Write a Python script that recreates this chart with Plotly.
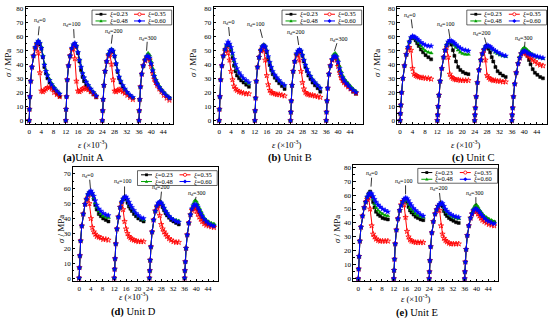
import plotly.graph_objects as go

W, H = 550, 322
FONT = "Liberation Serif"

# ---------------- data ----------------
rel_strain = [0, 0.1, 0.25, 0.5, 0.9, 1.4, 2.0, 2.5, 3.0, 3.5, 4.0, 4.5, 5.0, 5.5, 6.0, 6.7, 7.4, 8.2, 9.1, 10.0]
segment_start = [0, 12, 24, 36]
nd_values = ["0", "100", "200", "300"]
xi_labels = ["0.23", "0.35", "0.48", "0.60"]
x_ticks = [0, 4, 8, 12, 16, 20, 24, 28, 32, 36, 40, 44]

unitA_xi023 = [
    [0, 8, 17, 28, 38, 46, 52, 54.5, 55.5, 54, 51, 45, 38, 33.5, 30, 27, 24, 21.5, 19, 17],
    [0, 8, 17, 29, 39, 46, 51, 53.5, 54.5, 52.5, 48, 42, 36, 31, 28, 25, 23, 20.5, 18.5, 16.5],
    [0, 7, 15, 25, 35, 42, 47, 49, 50, 49, 45.5, 40, 34.5, 30, 27, 24, 21.5, 19.5, 17.5, 16],
    [0, 7, 15, 24, 33, 39, 43, 45, 45.5, 44, 40, 35, 31, 28, 26, 23.5, 21.5, 19.5, 17.5, 16]]
unitA_xi035 = [
    [0, 8, 17, 28, 38, 46, 51, 54, 48, 34, 21, 20.5, 21.5, 22.5, 23.5, 23.5, 22.5, 20, 18.5, 17],
    [0, 8, 17, 29, 39, 46, 50.5, 51, 44, 28, 21, 20.5, 21.5, 22.5, 23, 22.5, 22, 20.5, 19, 17],
    [0, 7, 15, 25, 35, 42, 46, 47, 40, 29, 21, 20.5, 21.5, 22, 21.5, 20.5, 19.5, 18, 16.5, 15],
    [0, 7, 15, 24, 33, 39, 42.5, 44.5, 45, 43, 38.5, 33.5, 29.5, 27, 25, 22.5, 20.5, 18, 16, 14.5]]
unitA_xi048 = [
    [0, 8, 17, 28, 38, 46, 52, 55, 57, 55.5, 52.5, 46.5, 40.5, 36, 33, 29.5, 26.5, 24, 21.5, 19.5],
    [0, 8, 17, 29, 39, 46, 51.5, 54, 55, 53.5, 49, 43.5, 38.5, 34, 31, 28, 25.5, 23, 20.5, 18],
    [0, 7, 15, 25, 35, 42, 47.5, 50, 51, 50, 46.5, 41, 36, 31.5, 28.5, 25, 22.5, 20, 18, 16.5],
    [0, 7, 15, 24, 33, 39, 43.5, 46, 48, 46.5, 42, 37, 32.5, 29.5, 27, 24.5, 22, 20, 18, 16]]
unitA_xi060 = [
    [0, 8, 17, 28, 38, 46, 52, 55, 56.5, 55, 51.5, 45.5, 39.5, 35, 32, 28.5, 25.5, 23, 21, 19],
    [0, 8, 17, 29, 39, 46, 51.5, 54, 55, 53, 48.5, 43, 38, 33.5, 30.5, 27.5, 25, 22.5, 20, 17.5],
    [0, 7, 15, 25, 35, 42, 47, 49.5, 50.5, 49.5, 46, 40.5, 35.5, 31, 28, 25, 22.5, 20, 18, 16.5],
    [0, 7, 15, 24, 33, 39, 43, 45.5, 46, 44.5, 40.5, 35.5, 31.5, 28.5, 26, 23.5, 21.5, 19.5, 17.5, 16]]

unitB_xi023 = [
    [0, 8, 17, 29, 39, 46, 50.5, 53, 54, 53.5, 50, 44.5, 39, 35, 32, 30, 28.5, 27, 25.5, 24],
    [0, 7, 16, 28, 38, 45, 50, 52.5, 53.5, 52, 48.5, 43.5, 39.5, 36, 33, 30.5, 28.5, 26.5, 24.5, 22.5],
    [0, 6, 14, 25, 35, 42, 47, 49, 50, 49, 46, 42, 38, 35, 32, 29.5, 27, 25, 23, 20.5],
    [0, 6, 14, 23, 33, 39, 43, 45, 45.5, 44, 40, 35.5, 32, 29.5, 27.5, 26, 24.5, 22.5, 20.5, 19]]
unitB_xi035 = [
    [0, 8, 17, 29, 39, 46, 49.5, 51, 48, 43, 35, 29, 24.5, 22.5, 21.5, 20.5, 20, 19.5, 19, 19],
    [0, 7, 16, 28, 38, 45, 49.5, 51, 50, 43, 32, 25.5, 21.5, 20, 19.5, 19, 18.5, 18.5, 18, 17.5],
    [0, 6, 14, 25, 35, 42, 46.5, 47, 43, 35, 27, 22.5, 20, 19, 18.5, 18, 18, 17.5, 17, 16.5],
    [0, 6, 14, 23, 33, 39, 43, 44.5, 45, 43, 38.5, 34, 30.5, 28.5, 27, 25.5, 24, 22.5, 21, 19.5]]
unitB_xi048 = [
    [0, 8, 17, 29, 39, 46, 50.5, 53.5, 55, 54, 51, 47, 42.5, 39, 36, 33.5, 31.5, 29.5, 27.5, 26],
    [0, 7, 16, 28, 38, 45, 50.5, 53, 54, 53, 50, 45.5, 41.5, 38, 35, 32.5, 30.5, 28.5, 26.5, 25],
    [0, 6, 14, 25, 35, 42, 47.5, 49.5, 50.5, 50, 47, 43.5, 40, 37, 34.5, 32, 29.5, 27.5, 25.5, 23.5],
    [0, 6, 14, 23, 33, 39, 44, 47, 48, 46.5, 43, 38.5, 35, 32, 30, 28, 26.5, 24.5, 22.5, 21]]
unitB_xi060 = [
    [0, 8, 17, 29, 39, 46, 50.5, 54, 56, 54.5, 52, 48, 43.5, 40, 37, 34, 32, 30, 28.5, 27],
    [0, 7, 16, 28, 38, 45, 50, 52.5, 53.5, 52.5, 49.5, 45.5, 41.5, 38, 35, 32.5, 30.5, 28.5, 26.5, 25],
    [0, 6, 14, 25, 35, 42, 47.5, 49.5, 50.5, 49.5, 46.5, 43, 39.5, 36.5, 34, 31.5, 29, 27, 25, 23],
    [0, 6, 14, 23, 33, 39, 43.5, 45.5, 46, 45, 41.5, 37, 33.5, 30.5, 28.5, 26.5, 25, 23, 21.5, 20]]

unitC_xi023 = [
    [0, 5, 11, 20, 30, 39, 47, 52, 56, 58.5, 59.5, 58.5, 57, 55, 53, 50.5, 48.5, 46.5, 45, 43.5],
    [0, 4, 10, 18, 28, 37, 45, 50, 53.5, 55.5, 56, 54, 50, 46, 42, 38, 36, 34.5, 33.5, 33],
    [0, 4, 9, 17, 27, 36, 43, 47.5, 50.5, 52.5, 53, 51, 48.5, 45, 42, 38, 35, 33.5, 32, 31],
    [0, 4, 9, 17, 26, 34, 40.5, 44.5, 47.5, 49, 49, 48, 46, 43, 40, 36.5, 34, 32.5, 31, 30]]
unitC_xi035 = [
    [0, 5, 11, 20, 30, 39, 47, 50.5, 52, 50, 37, 33, 32, 31.5, 31, 30.5, 30.5, 30, 30, 29.5],
    [0, 4, 10, 18, 28, 37, 45, 50, 52, 45, 33, 31, 30, 29.5, 29, 29, 28.5, 28.5, 28.5, 28.5],
    [0, 4, 9, 17, 27, 36, 43, 47.5, 50, 43, 32, 30.5, 29.5, 29, 28.5, 28.5, 28, 28, 27.5, 27.5],
    [0, 4, 9, 17, 26, 34, 40.5, 44.5, 47.5, 48.5, 48.5, 47.5, 46.5, 45.5, 44.5, 43, 42, 40.5, 39.5, 39]]
unitC_xi048 = [
    [0, 5, 11, 20, 30, 39, 47, 52, 56, 59, 60, 59.5, 58.5, 57, 55.5, 53, 51, 49.5, 48.5, 48],
    [0, 4, 10, 18, 28, 37, 45, 50, 53.5, 55.5, 56.5, 56, 55, 53.5, 52, 50, 48.5, 47.5, 47, 47],
    [0, 4, 9, 17, 27, 36, 43, 47.5, 50.5, 52.5, 53, 53, 52, 51, 50, 48.5, 47.5, 46.5, 46, 45.5],
    [0, 4, 9, 17, 26, 34, 41, 45.5, 48.5, 51, 52, 51, 50, 49, 48, 47, 46, 45, 44.5, 44]]
unitC_xi060 = [
    [0, 5, 11, 20, 30, 39, 47, 52, 56, 59, 60, 59.5, 59, 58, 57, 55.5, 54.5, 53.5, 53, 53],
    [0, 4, 10, 18, 28, 37, 45, 50, 53.5, 56, 57, 56.5, 56, 55, 54, 52.5, 51.5, 50.5, 50, 49.5],
    [0, 4, 9, 17, 27, 36, 43, 47.5, 50.5, 52.5, 53.5, 53, 52.5, 51.5, 50.5, 49.5, 48.5, 47.5, 46.5, 46],
    [0, 4, 9, 17, 26, 34, 40.5, 44.5, 47.5, 49, 49.5, 49, 48, 47.5, 47, 46.5, 46, 45.5, 45, 44.5]]

unitD_xi023 = [
    [0, 7, 15, 25, 35, 43, 49.5, 53, 56, 57.5, 58, 56, 53, 49, 46, 43, 41.5, 40, 39, 38],
    [0, 6, 13, 23, 33, 41, 47.5, 51, 53, 54, 53, 50.5, 48, 46.5, 45, 43, 41.5, 40, 39, 38],
    [0, 5, 12, 21, 31, 39, 45, 48, 49.5, 50, 49.5, 47.5, 45.5, 43.5, 42, 40.5, 39, 38, 37, 36],
    [0, 5, 11, 20, 29, 37, 42.5, 46, 47.5, 48.5, 48, 46, 44, 42, 40.5, 38.5, 37, 36, 35.5, 35]]
unitD_xi035 = [
    [0, 7, 15, 25, 35, 43, 49.5, 52.5, 54, 50, 40, 34, 31, 29.5, 28, 27.5, 27, 26, 26, 25.5],
    [0, 6, 13, 23, 33, 41, 47.5, 50, 46, 38, 33, 30, 28, 27, 26, 25.5, 25, 24.5, 24.5, 24.5],
    [0, 5, 12, 21, 31, 39, 45, 47.5, 48.5, 42, 36, 33, 31, 29.5, 28, 26.5, 25.5, 24.5, 24, 24],
    [0, 5, 11, 20, 29, 37, 42.5, 45.5, 47, 47, 45, 43, 41, 39.5, 38, 36.5, 35.5, 35, 34.5, 34]]
unitD_xi048 = [
    [0, 7, 15, 25, 35, 43, 49.5, 53, 56, 57.5, 58, 56.5, 54, 50.5, 47.5, 45, 43, 41.5, 41, 40.5],
    [0, 6, 13, 23, 33, 41, 47.5, 51, 53, 54.5, 54, 52.5, 50.5, 48.5, 47, 45, 43, 41.5, 40, 39],
    [0, 5, 12, 21, 31, 39, 45, 48.5, 50.5, 51.5, 51, 49.5, 47.5, 45.5, 44, 42, 40.5, 39.5, 39, 38.5],
    [0, 5, 11, 20, 29, 37, 43, 47, 50, 52, 51.5, 49.5, 47, 45, 43, 40.5, 39, 38, 37, 36.5]]
unitD_xi060 = [
    [0, 7, 15, 25, 35, 43, 49.5, 53, 56, 57.5, 58.5, 57, 55, 52, 49, 46.5, 45, 43.5, 42.5, 42],
    [0, 6, 13, 23, 33, 41, 47.5, 51, 53, 54.5, 54.5, 53, 51, 49, 47.5, 45.5, 43.5, 42, 40.5, 40],
    [0, 5, 12, 21, 31, 39, 45, 48.5, 50.5, 51, 50.5, 49, 47, 45, 43.5, 41.5, 40, 39, 38, 37.5],
    [0, 5, 11, 20, 29, 37, 42.5, 46.5, 48.5, 49.5, 49, 47.5, 45.5, 43.5, 41.5, 39.5, 38, 36.5, 35.5, 35]]

unitE_xi023 = [
    [0, 7, 16, 27, 37, 45, 51, 55, 58.5, 61, 62.5, 59, 55, 51, 48, 46, 45, 43.5, 43, 42.5],
    [0, 6, 14, 25, 35, 43, 49, 52.5, 55, 56.5, 57, 55, 51.5, 49, 47.5, 46, 44.5, 43.5, 42.5, 42],
    [0, 5, 13, 23, 33, 41, 46.5, 49.5, 51.5, 53, 53.5, 52, 48.5, 46.5, 45, 43.5, 42.5, 41.5, 40.5, 40],
    [0, 5, 12, 21, 31, 38, 43.5, 46.5, 49, 50.5, 50.5, 49, 47.5, 46, 45, 43.5, 42.5, 41.5, 41, 40.5]]
unitE_xi035 = [
    [0, 7, 16, 27, 37, 45, 51, 55, 57, 58, 50, 38, 32, 30, 28.5, 27.5, 27, 27, 27, 27],
    [0, 6, 14, 25, 35, 43, 49, 53, 55.5, 53, 44, 34, 30, 28, 27, 26.5, 26, 26, 26, 26],
    [0, 5, 13, 23, 33, 41, 46.5, 49.5, 52, 49, 38, 32, 29, 27.5, 26.5, 25.5, 25, 25, 25, 25],
    [0, 5, 12, 21, 31, 38, 43.5, 46.5, 48.5, 49, 48, 46.5, 45, 43.5, 42, 41, 40, 39, 38.5, 38]]
unitE_xi048 = [
    [0, 7, 16, 27, 37, 45, 51, 55, 58.5, 61, 62, 60.5, 57, 53.5, 51, 49, 47.5, 46.5, 45.5, 45],
    [0, 6, 14, 25, 35, 43, 49, 52.5, 55, 56.5, 57.5, 56, 53.5, 51, 49.5, 48, 46.5, 45.5, 44.5, 44],
    [0, 5, 13, 23, 33, 41, 46.5, 49.5, 52, 53.5, 54, 53.5, 51, 49, 47.5, 46, 45, 44, 43.5, 43],
    [0, 5, 12, 21, 31, 38, 44, 47.5, 50.5, 52.5, 53, 51.5, 49.5, 48, 46.5, 45, 44, 43, 42, 41]]
unitE_xi060 = [
    [0, 7, 16, 27, 37, 45, 51, 55, 58.5, 60.5, 61.5, 61, 59, 57, 55, 53, 51.5, 50, 49, 48],
    [0, 6, 14, 25, 35, 43, 49, 52.5, 55, 57, 58, 57.5, 56, 54, 52.5, 50.5, 49, 47.5, 46, 45],
    [0, 5, 13, 23, 33, 41, 46.5, 49.5, 52, 53.5, 54.5, 54, 52, 50, 48.5, 47, 46, 45, 44.5, 44],
    [0, 5, 12, 21, 31, 38, 43.5, 46.5, 49, 50, 50, 49, 48, 46.5, 45, 43.5, 42, 41, 40, 39.5]]

# ---------------- layout helpers ----------------
def px(xp):
    return xp / W

def py(yp):
    return 1 - yp / H

series_style = [
    dict(color="#000000", symbol="square", size=3, lw=0.5),
    dict(color="#ff0000", symbol="star-open", size=4, lw=0.8),
    dict(color="#00a000", symbol="triangle-up", size=3.5, lw=0.5),
    dict(color="#0000ff", symbol="star", size=4, lw=0.4),
]

panels = [
    dict(key="A", data=[unitA_xi023, unitA_xi035, unitA_xi048, unitA_xi060],
         frame=(25.5, 172.5, 4.7, 124.0), xr=[-1.2, 47.0], yr=[-2.8, 81], ymax=80,
         caption="<b>(a)</b>Unit A", cap=(83, 157.5), xt=(93, 144.5), yt=(8, 62),
         nd_text=[(3.5, 71), (13.8, 68), (27.5, 63.5), (38.9, 58.5)],
         nd_line=[(3.3, 67, 2.9, 58.5), (14.6, 65, 14.8, 56.5), (27.3, 61, 26.8, 52), (38.7, 56, 38.5, 49.5)]),
    dict(key="B", data=[unitB_xi023, unitB_xi035, unitB_xi048, unitB_xi060],
         frame=(213.5, 362.5, 4.7, 124.0), xr=[-1.9, 48.2], yr=[-2.8, 81], ymax=80,
         caption="<b>(b)</b> Unit B", cap=(290, 157.5), xt=(287, 144.5), yt=(193, 62),
         nd_text=[(3.0, 69.5), (12.3, 68), (25.8, 62.5), (40.2, 57.5)],
         nd_line=[(3.2, 66.5, 3.6, 57.5), (13.8, 65, 15, 55), (26.3, 60, 26.9, 51.5), (39.6, 55, 38.8, 49.5)]),
    dict(key="C", data=[unitC_xi023, unitC_xi035, unitC_xi048, unitC_xi060],
         frame=(397.3, 547.3, 4.7, 124.0), xr=[-0.9, 47.4], yr=[-2.8, 81], ymax=80,
         caption="<b>(c)</b> Unit C", cap=(473, 157.5), xt=(466, 144.5), yt=(377, 62),
         nd_text=[(3.0, 75), (14.5, 68), (26.3, 62), (39.8, 58.5)],
         nd_line=[(3.6, 72, 4.2, 61.5), (15.6, 65, 16.1, 58), (27.2, 59, 27.8, 54), (40.2, 56, 40.1, 52.5)]),
    dict(key="D", data=[unitD_xi023, unitD_xi035, unitD_xi048, unitD_xi060],
         frame=(73.0, 218.0, 167.3, 283.0), xr=[-2.1, 47.4], yr=[-2.3, 74.4], ymax=70,
         caption="<b>(d)</b> Unit D", cap=(133, 314), xt=(134, 298), yt=(61, 230),
         nd_text=[(3.0, 69), (14.7, 64.5), (27.8, 61), (40, 57)],
         nd_line=[(3.6, 66, 3.9, 59), (15.5, 61.5, 15.5, 55.5), (28.1, 58, 27.8, 52), (39.9, 54.5, 39.7, 52.5)]),
    dict(key="E", data=[unitE_xi023, unitE_xi035, unitE_xi048, unitE_xi060],
         frame=(353.3, 498.3, 165.0, 283.0), xr=[-1.7, 47.4], yr=[-2.0, 81.6], ymax=80,
         caption="<b>(e)</b> Unit E", cap=(417, 314.5), xt=(416, 300), yt=(337, 230),
         nd_text=[(4.3, 75.5), (15.3, 70), (27.3, 64.5), (39.3, 61)],
         nd_line=[(4.5, 72.5, 4.2, 63), (16, 67, 16, 58.5), (27.5, 61.5, 27.8, 55), (39.8, 58.5, 39.8, 53)]),
]

fig = go.Figure()
layout = dict(width=W, height=H, margin=dict(l=0, r=0, t=0, b=0),
              paper_bgcolor="white", plot_bgcolor="white", showlegend=False,
              font=dict(family=FONT, color="black"))
shapes, annotations = [], []


def paper_text(xp, yp, text, size, **kw):
    d = dict(x=px(xp), y=py(yp), xref="paper", yref="paper", showarrow=False,
             xanchor="center", yanchor="middle", text=text,
             font=dict(family=FONT, size=size, color="black"))
    d.update(kw)
    return d


for i, p in enumerate(panels):
    n = "" if i == 0 else str(i + 1)
    xa, ya = "x" + n, "y" + n
    x0, x1, y0, y1 = p["frame"]
    axis_common = dict(showline=True, linecolor="black", linewidth=0.8, mirror=True,
                       ticks="inside", ticklen=2.5, tickwidth=0.6, tickcolor="black",
                       showgrid=False, zeroline=False,
                       tickfont=dict(family=FONT, size=7, color="black"))
    layout["xaxis" + n] = dict(axis_common, domain=[px(x0), px(x1)], range=p["xr"],
                               anchor=ya, tickvals=x_ticks,
                               minor=dict(ticks="inside", ticklen=1.5, tickwidth=0.5,
                                          tickcolor="black", dtick=2, tick0=0))
    layout["yaxis" + n] = dict(axis_common, domain=[py(y1), py(y0)], range=p["yr"],
                               anchor=xa, tickvals=list(range(0, p["ymax"] + 1, 10)),
                               minor=dict(ticks="inside", ticklen=1.5, tickwidth=0.5,
                                          tickcolor="black", dtick=5, tick0=0))
    # curves
    for s, (series, st) in enumerate(zip(p["data"], series_style)):
        xs, ys = [], []
        for k, seg in enumerate(series):
            xs += [segment_start[k] + r for r in rel_strain] + [None]
            ys += list(seg) + [None]
        fig.add_trace(go.Scatter(
            x=xs, y=ys, mode="lines+markers", xaxis=xa, yaxis=ya,
            name="ξ=" + xi_labels[s], connectgaps=False,
            line=dict(color=st["color"], width=1),
            marker=dict(symbol=st["symbol"], size=st["size"], color=st["color"],
                        line=dict(color=st["color"], width=st["lw"]))))
    # n_d labels and dashed pointers
    for k in range(4):
        tx, ty = p["nd_text"][k]
        annotations.append(dict(x=tx, y=ty, xref=xa, yref=ya, showarrow=False,
                                xanchor="center", yanchor="middle",
                                text="<i>n</i><sub>d</sub>=" + nd_values[k],
                                font=dict(family=FONT, size=6, color="black")))
        lx0, ly0, lx1, ly1 = p["nd_line"][k]
        shapes.append(dict(type="line", xref=xa, yref=ya, x0=lx0, y0=ly0, x1=lx1, y1=ly1,
                           line=dict(color="black", width=0.8, dash="dash")))
    # axis titles and caption
    annotations.append(paper_text(p["xt"][0], p["xt"][1], "<i>ε</i> (×10<sup>-3</sup>)", 8.5))
    annotations.append(paper_text(p["yt"][0], p["yt"][1], "<i>σ</i> / MPa", 9, textangle=-90))
    annotations.append(paper_text(p["cap"][0], p["cap"][1], p["caption"], 10.5))
    # legend box (manual, 2 x 2)
    L, T = x1 - 80.5, y0 + 3.5
    shapes.append(dict(type="rect", xref="paper", yref="paper",
                       x0=px(L), x1=px(x1 - 0.8), y0=py(T), y1=py(T + 15),
                       line=dict(color="black", width=0.6), fillcolor="white", layer="above"))
    for s, st in enumerate(series_style):
        c, r = s % 2, s // 2
        lx = L + 3.5 + c * 38.5
        ly = T + 4.2 + r * 6.8
        shapes.append(dict(type="line", xref="paper", yref="paper",
                           x0=px(lx), x1=px(lx + 11), y0=py(ly), y1=py(ly),
                           line=dict(color=st["color"], width=1), layer="above"))
        mx = lx + 5.5
        if s == 0:
            shapes.append(dict(type="rect", xref="paper", yref="paper",
                               x0=px(mx - 1.4), x1=px(mx + 1.4), y0=py(ly + 1.4), y1=py(ly - 1.4),
                               line=dict(width=0), fillcolor=st["color"], layer="above"))
        elif s == 1:
            shapes.append(dict(type="circle", xref="paper", yref="paper",
                               x0=px(mx - 1.6), x1=px(mx + 1.6), y0=py(ly + 1.6), y1=py(ly - 1.6),
                               line=dict(color=st["color"], width=0.8), fillcolor="white", layer="above"))
        elif s == 2:
            path = "M {:.5f},{:.5f} L {:.5f},{:.5f} L {:.5f},{:.5f} Z".format(
                px(mx), py(ly - 1.8), px(mx - 1.7), py(ly + 1.3), px(mx + 1.7), py(ly + 1.3))
            shapes.append(dict(type="path", xref="paper", yref="paper", path=path,
                               line=dict(width=0), fillcolor=st["color"], layer="above"))
        else:
            path = "M {:.5f},{:.5f} L {:.5f},{:.5f} L {:.5f},{:.5f} L {:.5f},{:.5f} Z".format(
                px(mx), py(ly - 2), px(mx + 2), py(ly), px(mx), py(ly + 2), px(mx - 2), py(ly))
            shapes.append(dict(type="path", xref="paper", yref="paper", path=path,
                               line=dict(width=0), fillcolor=st["color"], layer="above"))
        annotations.append(paper_text(lx + 12, ly, "<i>ξ</i>=" + xi_labels[s], 6.5,
                                      xanchor="left"))

layout["shapes"] = shapes
layout["annotations"] = annotations
fig.update_layout(**layout)
fig.write_html("out.html", config={"displayModeBar": False},
               post_script="document.body.style.margin='0';document.body.style.overflow='hidden';")
